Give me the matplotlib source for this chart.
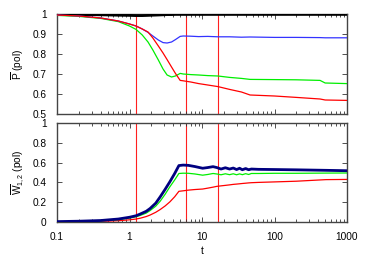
import matplotlib
matplotlib.use("Agg")
import matplotlib.pyplot as plt
from matplotlib.ticker import FixedLocator, LogLocator, NullFormatter

plt.rcParams['font.family'] = ['Liberation Sans', 'DejaVu Sans']
plt.rcParams['mathtext.fontset'] = 'custom'
plt.rcParams['mathtext.rm'] = 'Liberation Sans'
plt.rcParams['mathtext.it'] = 'Liberation Sans:italic'

# ---- data: top panel (P bar) ----
t_p = [0.1, 0.2, 0.4, 0.7, 1.0, 1.23, 1.5, 1.8, 2.1, 2.5, 2.9, 3.3, 3.8, 4.3,
       5.0, 5.5, 7, 9, 12, 16.6, 24, 35, 46, 100, 200, 425, 500, 1000]
p_blue = [0.995, 0.99, 0.98, 0.965, 0.95, 0.94, 0.925, 0.908, 0.89, 0.87, 0.857,
          0.855, 0.86, 0.872, 0.888, 0.89, 0.889, 0.887, 0.888, 0.886, 0.886,
          0.884, 0.885, 0.883, 0.883, 0.882, 0.881, 0.881]
p_red = [0.995, 0.99, 0.98, 0.965, 0.95, 0.94, 0.925, 0.91, 0.88, 0.84, 0.805,
         0.772, 0.735, 0.703, 0.668, 0.666, 0.66, 0.652, 0.645, 0.637, 0.623,
         0.61, 0.595, 0.59, 0.583, 0.575, 0.57, 0.568]
p_green = [0.993, 0.988, 0.978, 0.962, 0.94, 0.923, 0.895, 0.86, 0.82, 0.77,
           0.725, 0.695, 0.685, 0.69, 0.703, 0.70, 0.697, 0.695, 0.692, 0.69,
           0.683, 0.678, 0.673, 0.672, 0.671, 0.668, 0.655, 0.652]
p_black = [0.998, 0.997, 0.996, 0.994, 0.993, 0.992, 0.992, 0.993, 0.994, 0.995,
           0.996, 0.997, 0.997, 0.998, 0.998, 0.998, 0.998, 0.998, 0.998, 0.998,
           0.998, 0.998, 0.998, 0.998, 0.998, 0.998, 0.998, 0.998]

# ---- data: bottom panel (W_1,2 bar) ----
t_w = [0.1, 0.2, 0.4, 0.7, 1.0, 1.23, 1.4, 1.7, 1.92, 2.3, 2.65, 3.1, 3.6, 4.2,
       4.8, 5.5, 6.5, 8, 10.2, 12, 14.2, 16, 18.3, 21, 24, 27, 30, 33, 36, 40,
       44, 48, 60, 100, 200, 513, 1000]
w_blue = [0.004, 0.008, 0.015, 0.03, 0.048, 0.063, 0.08, 0.108, 0.136, 0.19,
          0.254, 0.33, 0.406, 0.49, 0.57, 0.575, 0.572, 0.56, 0.543, 0.55, 0.559,
          0.55, 0.535, 0.548, 0.535, 0.545, 0.53, 0.543, 0.528, 0.54, 0.528,
          0.535, 0.532, 0.53, 0.527, 0.522, 0.518]
w_green = [0.003, 0.006, 0.012, 0.025, 0.04, 0.053, 0.066, 0.09, 0.115, 0.16,
           0.21, 0.28, 0.355, 0.425, 0.49, 0.493, 0.492, 0.485, 0.473, 0.48,
           0.49, 0.485, 0.477, 0.487, 0.478, 0.487, 0.477, 0.486, 0.478, 0.488,
           0.48, 0.49, 0.49, 0.492, 0.492, 0.494, 0.495]
w_red = [0.002, 0.004, 0.007, 0.013, 0.022, 0.03, 0.038, 0.055, 0.07, 0.098,
         0.126, 0.162, 0.203, 0.255, 0.31, 0.315, 0.322, 0.328, 0.333, 0.342,
         0.352, 0.36, 0.365, 0.37, 0.375, 0.38, 0.383, 0.386, 0.389, 0.392,
         0.395, 0.397, 0.4, 0.405, 0.412, 0.428, 0.43]

vlines = [1.23, 6.1, 16.6]
xticks = [0.1, 1, 10, 100, 1000]
xticklabels = ["0.1", "1", "10", "100", "1000"]
p_ticks = [0.5, 0.6, 0.7, 0.8, 0.9, 1.0]
p_ticklabels = ["0.5", "0.6", "0.7", "0.8", "0.9", "1"]
w_ticks = [0, 0.2, 0.4, 0.6, 0.8, 1.0]
w_ticklabels = ["0", "0.2", "0.4", "0.6", "0.8", "1"]

fig = plt.figure(figsize=(3.65, 2.56), dpi=100)
ax1 = fig.add_axes([57/365, 1-114/256, 290/365, 100/256])
ax2 = fig.add_axes([57/365, 1-222/256, 290/365, 99/256])

FS = 7.3
for ax in (ax1, ax2):
    ax.set_xscale('log')
    ax.set_xlim(0.1, 1000)
    for v in vlines:
        ax.axvline(v, color='#ff2020', lw=0.8, zorder=1)
    ax.xaxis.set_major_locator(FixedLocator(xticks))
    ax.xaxis.set_minor_locator(LogLocator(base=10, subs=range(2, 10)))
    ax.xaxis.set_minor_formatter(NullFormatter())
    ax.tick_params(which='both', direction='in', top=True, right=True,
                   labelsize=FS, color='#333333', width=0.6)
    ax.tick_params(axis='y', which='both', pad=7.5)
    ax.tick_params(axis='x', which='both', pad=7)
    ax.tick_params(which='major', length=3.5)
    ax.tick_params(which='minor', length=2)
    for s in ax.spines.values():
        s.set_color('#444444')
        s.set_linewidth(1.0)

ax1.plot(t_p, p_black, color='black', lw=2.0, zorder=3)
ax1.plot(t_p, p_green, color='#00ee00', lw=0.9, zorder=3)
ax1.plot(t_p, p_blue, color='#3333ff', lw=0.9, zorder=3)
ax1.plot(t_p, p_red, color='#ff0000', lw=0.9, zorder=3)
ax1.set_ylim(0.5, 1.0)
ax1.set_yticks(p_ticks)
ax1.set_yticklabels(p_ticklabels)
ax1.set_xticklabels([])
ax1.set_ylabel(r"$\overline{\mathrm{P}}$ (pol)", fontsize=FS, labelpad=5)

ax2.plot(t_w, w_red, color='#ff0000', lw=0.9, zorder=3)
ax2.plot(t_w, w_green, color='#00ee00', lw=0.9, zorder=3)
ax2.plot(t_w, w_blue, color='#000080', lw=2.0, zorder=3)
ax2.set_ylim(0, 1.0)
ax2.set_yticks(w_ticks)
ax2.set_yticklabels(w_ticklabels)
ax2.set_xticklabels(xticklabels)
ax2.set_ylabel(r"$\overline{\mathrm{W}}_{1,2}$ (pol)", fontsize=FS, labelpad=5)
ax2.set_xlabel("t", fontsize=FS, labelpad=3)

fig.savefig("out.png", dpi=100)
